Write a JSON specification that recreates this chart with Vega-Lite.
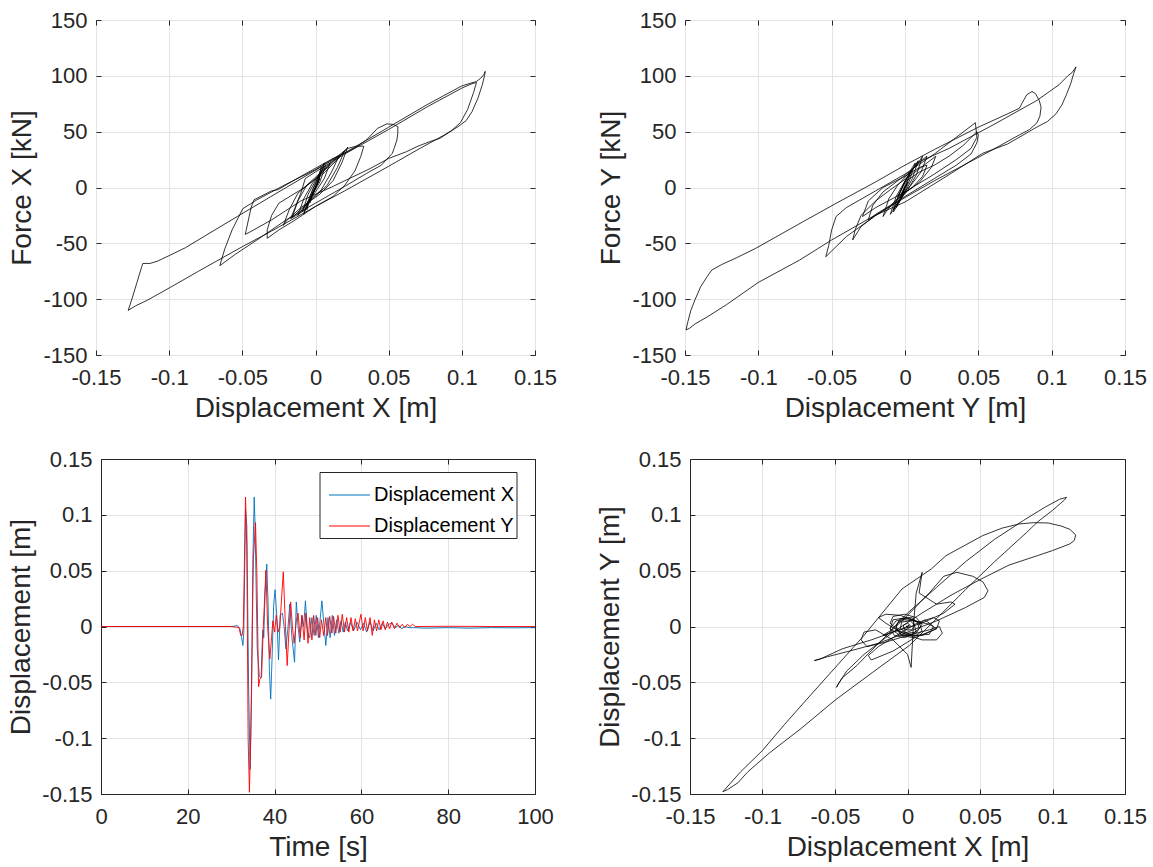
{
"$schema": "https://vega.github.io/schema/vega-lite/v6.json",
"background": "white",
"padding": {"left": 7, "top": 8, "right": 5, "bottom": 5},
"config": {
 "font": "Liberation Sans",
 "locale": {"number": {"decimal": ".", "thousands": ",", "grouping": [3], "currency": ["$", ""], "minus": "-"}},
 "view": {"stroke": "#262626", "strokeWidth": 1},
 "axis": {"labelFontSize": 22, "titleFontSize": 28, "labelColor": "#262626", "titleColor": "#262626", "titleFontWeight": "normal", "gridColor": "#E3E3E3", "gridWidth": 1, "tickColor": "#262626", "tickSize": -5, "domain": false, "domainColor": "#262626", "domainWidth": 1, "labelFlush": false, "labelOverlap": false, "labelFont": "Liberation Sans", "titleFont": "Liberation Sans"},
 "axisX": {"labelPadding": 17, "titlePadding": 6},
 "axisY": {"labelPadding": 14, "titlePadding": 6}
},
"datasets": {
 "fx": [
  {"x":0,"y":0},{"x":0.002,"y":5},{"x":-0.002,"y":-5},{"x":0.003,"y":8},{"x":-0.003,"y":-8},{"x":0,"y":0},
  {"x":-0.007,"y":-20},{"x":-0.012,"y":-24},{"x":-0.017,"y":-28},
  {"x":-0.014,"y":-18},{"x":-0.01,"y":-5},{"x":-0.007,"y":8},{"x":0,"y":14},{"x":0.02,"y":30},{"x":0.05,"y":52},{"x":0.076,"y":72},{"x":0.1,"y":89},{"x":0.107,"y":93},{"x":0.11,"y":94},
  {"x":0.108,"y":85},{"x":0.104,"y":70},{"x":0.099,"y":58},{"x":0.093,"y":51},{"x":0.088,"y":47},
  {"x":0.07,"y":34},{"x":0.05,"y":19},{"x":0.02,"y":-3},{"x":0,"y":-17},{"x":-0.03,"y":-39},{"x":-0.05,"y":-53},{"x":-0.08,"y":-75},{"x":-0.1,"y":-90},{"x":-0.115,"y":-101},{"x":-0.123,"y":-106},{"x":-0.128,"y":-110},
  {"x":-0.127,"y":-106},{"x":-0.125,"y":-98},{"x":-0.122,"y":-85},{"x":-0.119,"y":-72},{"x":-0.118,"y":-68},{"x":-0.113,"y":-68},{"x":-0.108,"y":-66},{"x":-0.1,"y":-61},{"x":-0.089,"y":-54},{"x":-0.07,"y":-39},{"x":-0.0535,"y":-26},{"x":-0.02,"y":0},{"x":0.02,"y":31},{"x":0.05,"y":54},{"x":0.076,"y":74},{"x":0.1,"y":91},{"x":0.11,"y":95},{"x":0.113,"y":98},{"x":0.115,"y":101},{"x":0.116,"y":104},
  {"x":0.1155,"y":100},{"x":0.114,"y":92},{"x":0.111,"y":80},{"x":0.107,"y":68},{"x":0.103,"y":60},{"x":0.098,"y":55},{"x":0.092,"y":50},{"x":0.085,"y":44},{"x":0.078,"y":41},{"x":0.07,"y":37},{"x":0.062,"y":32},{"x":0.05,"y":26},{"x":0.0374,"y":17},{"x":0.012,"y":1},{"x":-0.01,"y":-12},{"x":-0.03,"y":-29},{"x":-0.045,"y":-40},{"x":-0.048,"y":-42},
  {"x":-0.046,"y":-30},{"x":-0.044,"y":-18},{"x":-0.042,"y":-11},{"x":-0.03,"y":-3},{"x":-0.0257,"y":-2},{"x":-0.01,"y":10},{"x":0.012,"y":26},{"x":0.025,"y":34},{"x":0.0348,"y":42.5},{"x":0.0424,"y":53},{"x":0.0488,"y":57},{"x":0.053,"y":56.5},{"x":0.0563,"y":54.5},{"x":0.0562,"y":48},{"x":0.0556,"y":42.5},{"x":0.054,"y":36},{"x":0.0525,"y":30.6},{"x":0.045,"y":20},{"x":0.035,"y":12.7},{"x":0.02,"y":1},{"x":0,"y":-14},{"x":-0.02,"y":-29},{"x":-0.04,"y":-47},{"x":-0.055,"y":-60},{"x":-0.0654,"y":-70},
  {"x":-0.062,"y":-55},{"x":-0.057,"y":-38},{"x":-0.0497,"y":-19},{"x":-0.04,"y":-11},{"x":-0.02,"y":3},{"x":0,"y":16},{"x":0.015,"y":28},{"x":0.022,"y":35},{"x":0.028,"y":37},{"x":0.033,"y":37},
  {"x":0.031,"y":28},{"x":0.027,"y":15},{"x":0.02,"y":2},{"x":0.012,"y":-8},{"x":0,"y":-17},{"x":-0.015,"y":-30},{"x":-0.025,"y":-38},{"x":-0.033,"y":-45.5},
  {"x":-0.033,"y":-38},{"x":-0.03,"y":-25},{"x":-0.025,"y":-14},{"x":-0.01,"y":-2},{"x":0.005,"y":12},{"x":0.015,"y":25},{"x":0.022,"y":36},
  {"x":0.018,"y":22},{"x":0.012,"y":6},{"x":0.003,"y":-6},{"x":-0.01,"y":-18},{"x":-0.02,"y":-30},{"x":-0.022,"y":-34},
  {"x":-0.018,"y":-20},{"x":-0.012,"y":-5},{"x":0,"y":8},{"x":0.01,"y":20},{"x":0.018,"y":30},{"x":0.02,"y":33},
  {"x":0.015,"y":18},{"x":0.008,"y":2},{"x":-0.002,"y":-10},{"x":-0.012,"y":-22},{"x":-0.016,"y":-27},
  {"x":-0.012,"y":-12},{"x":-0.006,"y":2},{"x":0.004,"y":14},{"x":0.012,"y":24},{"x":0.016,"y":28},
  {"x":0.011,"y":14},{"x":0.004,"y":-2},{"x":-0.006,"y":-14},{"x":-0.012,"y":-25},
  {"x":-0.008,"y":-10},{"x":-0.002,"y":4},{"x":0.005,"y":14},{"x":0.01,"y":22},
  {"x":0.006,"y":8},{"x":0,"y":-4},{"x":-0.006,"y":-14},{"x":-0.009,"y":-22},
  {"x":-0.005,"y":-6},{"x":0,"y":6},{"x":0.004,"y":15},{"x":0.007,"y":20},
  {"x":0.003,"y":5},{"x":-0.002,"y":-6},{"x":-0.006,"y":-16},{"x":-0.008,"y":-24},
  {"x":-0.004,"y":-8},{"x":0.001,"y":6},{"x":0.005,"y":16},{"x":0.006,"y":22},
  {"x":0.002,"y":6},{"x":-0.003,"y":-8},{"x":-0.006,"y":-20},{"x":-0.005,"y":-14},
  {"x":-0.002,"y":-2},{"x":0.002,"y":10},{"x":0.004,"y":18},{"x":0.001,"y":4},{"x":-0.003,"y":-10},{"x":-0.004,"y":-14},{"x":0,"y":0},{"x":0.003,"y":10},{"x":0.002,"y":6},{"x":-0.002,"y":-6},{"x":0,"y":0}
 ],
 "fy": [
  {"x":0,"y":0},{"x":0.002,"y":5},{"x":-0.002,"y":-5},{"x":0.001,"y":2},{"x":0,"y":0},
  {"x":-0.004,"y":-12},{"x":-0.008,"y":-20},{"x":-0.006,"y":-12},{"x":0,"y":5},{"x":0.008,"y":22},{"x":0.03,"y":35},{"x":0.06,"y":56},{"x":0.09,"y":78},{"x":0.105,"y":92},{"x":0.111,"y":100},{"x":0.114,"y":103},{"x":0.1166,"y":108},
  {"x":0.115,"y":102},{"x":0.113,"y":93},{"x":0.11,"y":83},{"x":0.107,"y":74},{"x":0.103,"y":66},{"x":0.097,"y":59},{"x":0.0904,"y":54.5},{"x":0.07,"y":39},{"x":0.0529,"y":30.6},{"x":0.0279,"y":9.7},{"x":0,"y":-13},{"x":-0.022,"y":-26},{"x":-0.05,"y":-47},{"x":-0.0719,"y":-65},{"x":-0.1,"y":-85},{"x":-0.1218,"y":-105},{"x":-0.135,"y":-116},{"x":-0.143,"y":-122},{"x":-0.1468,"y":-126},{"x":-0.1493,"y":-127.6},
  {"x":-0.148,"y":-120},{"x":-0.146,"y":-110},{"x":-0.143,"y":-100},{"x":-0.1393,"y":-88.8},{"x":-0.135,"y":-80},{"x":-0.1318,"y":-74},{"x":-0.125,"y":-69},{"x":-0.115,"y":-63},{"x":-0.1018,"y":-54.5},{"x":-0.07,"y":-31},{"x":-0.047,"y":-14.2},{"x":-0.02,"y":5},{"x":0,"y":20},{"x":0.02,"y":34},{"x":0.05,"y":54},{"x":0.07,"y":66},{"x":0.078,"y":71},{"x":0.08,"y":76},{"x":0.083,"y":83},{"x":0.0866,"y":86},{"x":0.089,"y":84},{"x":0.0915,"y":78},{"x":0.0928,"y":72},{"x":0.092,"y":64},{"x":0.09,"y":58},{"x":0.085,"y":52},{"x":0.075,"y":45},{"x":0.06,"y":34},{"x":0.04,"y":20},{"x":0.02,"y":6},{"x":0,"y":-9},{"x":-0.02,"y":-25},{"x":-0.04,"y":-44},{"x":-0.054,"y":-62},
  {"x":-0.052,"y":-52},{"x":-0.05,"y":-38},{"x":-0.047,"y":-26},{"x":-0.04,"y":-18},{"x":-0.02,"y":-3},{"x":0,"y":12},{"x":0.02,"y":30},{"x":0.035,"y":45},{"x":0.048,"y":58},
  {"x":0.049,"y":45},{"x":0.045,"y":35},{"x":0.035,"y":25},{"x":0.02,"y":12},{"x":0,"y":-4},{"x":-0.02,"y":-18},{"x":-0.029,"y":-26},
  {"x":-0.025,"y":-12},{"x":-0.015,"y":0},{"x":0,"y":10},{"x":0.01,"y":18},{"x":0.015,"y":20},
  {"x":0.012,"y":10},{"x":0.005,"y":0},{"x":-0.005,"y":-8},
  {"x":0,"y":5},{"x":0.01,"y":14},{"x":0.02,"y":20},{"x":0.03,"y":28},{"x":0.04,"y":38},{"x":0.049,"y":50},{"x":0.05,"y":47},{"x":0.049,"y":40},{"x":0.045,"y":30},{"x":0.035,"y":20},{"x":0.02,"y":8},{"x":0,"y":-8},{"x":-0.02,"y":-25},{"x":-0.03,"y":-35},{"x":-0.0357,"y":-47},
  {"x":-0.034,"y":-38},{"x":-0.03,"y":-25},{"x":-0.02,"y":-12},{"x":-0.01,"y":-2},{"x":0.005,"y":12},{"x":0.015,"y":22},{"x":0.021,"y":28},
  {"x":0.018,"y":18},{"x":0.01,"y":5},{"x":0,"y":-5},{"x":-0.01,"y":-16},{"x":-0.02,"y":-24},{"x":-0.025,"y":-29},
  {"x":-0.022,"y":-16},{"x":-0.015,"y":-4},{"x":-0.005,"y":6},{"x":0.005,"y":16},{"x":0.012,"y":25},{"x":0.015,"y":28},
  {"x":0.011,"y":14},{"x":0.004,"y":2},{"x":-0.005,"y":-10},{"x":-0.012,"y":-20},{"x":-0.015,"y":-26},
  {"x":-0.011,"y":-10},{"x":-0.005,"y":2},{"x":0.002,"y":12},{"x":0.009,"y":22},{"x":0.012,"y":28},
  {"x":0.008,"y":12},{"x":0.002,"y":-2},{"x":-0.005,"y":-14},{"x":-0.01,"y":-24},
  {"x":-0.006,"y":-8},{"x":0,"y":6},{"x":0.005,"y":16},{"x":0.009,"y":24},
  {"x":0.005,"y":8},{"x":0,"y":-4},{"x":-0.005,"y":-16},{"x":-0.008,"y":-22},
  {"x":-0.004,"y":-6},{"x":0.001,"y":8},{"x":0.005,"y":18},{"x":0.007,"y":22},
  {"x":0.003,"y":6},{"x":-0.002,"y":-8},{"x":-0.006,"y":-18},{"x":-0.004,"y":-10},
  {"x":0,"y":2},{"x":0.004,"y":14},{"x":0.002,"y":6},{"x":-0.002,"y":-6},{"x":-0.003,"y":-10},{"x":0,"y":0}
 ],
 "xy": [
  {"x":0,"y":0},{"x":0.001,"y":0.001},{"x":-0.001,"y":0},{"x":0,"y":0},
  {"x":-0.008,"y":-0.004},{"x":-0.017,"y":-0.008},{"x":-0.012,"y":-0.004},{"x":0,"y":0.012},{"x":0.02,"y":0.035},{"x":0.04,"y":0.058},{"x":0.06,"y":0.078},{"x":0.08,"y":0.095},{"x":0.095,"y":0.107},{"x":0.105,"y":0.114},{"x":0.1097,"y":0.1157},{"x":0.108,"y":0.113},
  {"x":0.1,"y":0.104},{"x":0.09,"y":0.094},{"x":0.082,"y":0.084},{"x":0.06,"y":0.058},{"x":0.04,"y":0.033},{"x":0.02,"y":0.007},{"x":0.0013,"y":-0.017},{"x":-0.024,"y":-0.041},{"x":-0.05,"y":-0.066},{"x":-0.074,"y":-0.092},{"x":-0.095,"y":-0.113},{"x":-0.11,"y":-0.13},{"x":-0.117,"y":-0.14},{"x":-0.124,"y":-0.146},{"x":-0.1273,"y":-0.1479},{"x":-0.126,"y":-0.146},
  {"x":-0.115,"y":-0.13},{"x":-0.1,"y":-0.111},{"x":-0.085,"y":-0.088},{"x":-0.0693,"y":-0.065},{"x":-0.05,"y":-0.037},{"x":-0.03,"y":-0.008},{"x":-0.0038,"y":0.0336},{"x":0.0164,"y":0.0515},{"x":0.0265,"y":0.0634},{"x":0.04,"y":0.073},{"x":0.0517,"y":0.0813},{"x":0.065,"y":0.088},{"x":0.0769,"y":0.0918},{"x":0.087,"y":0.093},{"x":0.097,"y":0.0927},{"x":0.106,"y":0.09},{"x":0.112,"y":0.087},{"x":0.116,"y":0.082},{"x":0.115,"y":0.077},{"x":0.112,"y":0.074},{"x":0.1,"y":0.068},{"x":0.0895,"y":0.0634},
  {"x":0.07,"y":0.055},{"x":0.05,"y":0.042},{"x":0.03,"y":0.028},{"x":0.01,"y":0.012},{"x":-0.01,"y":-0.005},{"x":-0.03,"y":-0.025},{"x":-0.042,"y":-0.04},{"x":-0.047,"y":-0.05},{"x":-0.049,"y":-0.0545},{"x":-0.048,"y":-0.052},
  {"x":-0.045,"y":-0.046},{"x":-0.035,"y":-0.035},{"x":-0.02,"y":-0.015},{"x":0,"y":0.01},{"x":0.015,"y":0.03},{"x":0.025,"y":0.045},{"x":0.034,"y":0.0485},{"x":0.045,"y":0.045},{"x":0.052,"y":0.04},{"x":0.0555,"y":0.032},{"x":0.053,"y":0.026},{"x":0.04,"y":0.017},{"x":0.02,"y":0.005},{"x":0,"y":-0.005},{"x":-0.02,"y":-0.015},{"x":-0.04,"y":-0.022},{"x":-0.055,"y":-0.027},{"x":-0.0643,"y":-0.0306},{"x":-0.06,"y":-0.029},
  {"x":-0.045,"y":-0.02},{"x":-0.025,"y":-0.012},{"x":-0.01,"y":-0.005},{"x":0.01,"y":0.003},{"x":0.025,"y":0.012},{"x":0.0328,"y":0.02},{"x":0.03,"y":0.022},
  {"x":0.02,"y":0.02},{"x":0.008,"y":0.03},{"x":0.0101,"y":0.0485},{"x":0.006,"y":0.03},{"x":0.004,"y":0},{"x":0.0025,"y":-0.0366},
  {"x":0,"y":-0.025},{"x":-0.01,"y":-0.012},{"x":-0.022,"y":-0.003},{"x":-0.03,"y":-0.005},{"x":-0.032,"y":-0.012},{"x":-0.028,"y":-0.018},{"x":-0.015,"y":-0.014},{"x":0,"y":-0.008},{"x":0.015,"y":-0.003},{"x":0.022,"y":0},{"x":0.024,"y":-0.006},{"x":0.02,"y":-0.012},{"x":0.01,"y":-0.012},{"x":-0.005,"y":-0.005},{"x":-0.015,"y":0.003},{"x":-0.02,"y":0.008},{"x":-0.015,"y":0.011},{"x":-0.005,"y":0.01},{"x":0.005,"y":0.005},{"x":0.015,"y":0.002},{"x":0.02,"y":-0.002},
  {"x":0.005,"y":-0.01},{"x":-0.01,"y":-0.022},{"x":-0.025,"y":-0.03},{"x":-0.027,"y":-0.026},{"x":-0.02,"y":-0.018},{"x":-0.005,"y":-0.006},{"x":0.008,"y":0.004},{"x":0.018,"y":0.008},{"x":0.022,"y":0.005},{"x":0.02,"y":-0.002},{"x":0.01,"y":-0.008},{"x":-0.005,"y":-0.008},{"x":-0.012,"y":-0.002},{"x":-0.01,"y":0.006},{"x":0,"y":0.008},{"x":0.008,"y":0.004},{"x":0.01,"y":-0.004},{"x":0.004,"y":-0.01},{"x":-0.004,"y":-0.008},{"x":-0.008,"y":0},{"x":-0.005,"y":0.007},{"x":0.003,"y":0.008},{"x":0.008,"y":0.002},
  {"x":0.012,"y":0.006},{"x":0.018,"y":0},{"x":0.015,"y":-0.007},{"x":0.005,"y":-0.008},{"x":-0.006,"y":-0.004},{"x":-0.012,"y":0.003},{"x":-0.01,"y":0.009},{"x":-0.002,"y":0.011},{"x":0.006,"y":0.008},{"x":0.01,"y":0.002},{"x":0.006,"y":-0.006},{"x":-0.002,"y":-0.01},{"x":-0.009,"y":-0.008},{"x":-0.012,"y":-0.002},{"x":-0.008,"y":0.005},{"x":0,"y":0.007},{"x":0.007,"y":0.004},{"x":0.008,"y":-0.002},{"x":0.003,"y":-0.007},{"x":-0.004,"y":-0.007},{"x":-0.008,"y":-0.003},{"x":-0.007,"y":0.003},{"x":-0.002,"y":0.006},{"x":0.004,"y":0.005},
  {"x":0.006,"y":-0.005},{"x":0,"y":-0.006},{"x":-0.005,"y":-0.002},{"x":-0.004,"y":0.004},{"x":0.002,"y":0.005},{"x":0.005,"y":0.001},{"x":0.003,"y":-0.003},{"x":-0.002,"y":-0.003},{"x":-0.003,"y":0.001},{"x":0,"y":0.003},{"x":0.002,"y":0.001},{"x":0,"y":-0.001},{"x":-0.001,"y":0}
 ],
 "ts": [
  {"s":"Displacement X","t":0,"v":0},{"s":"Displacement X","t":30,"v":0},{"s":"Displacement X","t":31,"v":0.0005},{"s":"Displacement X","t":31.4,"v":0.001},{"s":"Displacement X","t":32,"v":-0.002},{"s":"Displacement X","t":32.4,"v":-0.01},{"s":"Displacement X","t":32.7,"v":-0.017},{"s":"Displacement X","t":32.9,"v":-0.005},{"s":"Displacement X","t":33.3,"v":0.105},{"s":"Displacement X","t":33.6,"v":0.09},{"s":"Displacement X","t":34.0,"v":-0.05},{"s":"Displacement X","t":34.35,"v":-0.128},{"s":"Displacement X","t":34.7,"v":-0.06},{"s":"Displacement X","t":35.0,"v":0.06},{"s":"Displacement X","t":35.3,"v":0.116},{"s":"Displacement X","t":35.5,"v":0.09},{"s":"Displacement X","t":36.0,"v":-0.02},{"s":"Displacement X","t":36.5,"v":-0.045},{"s":"Displacement X","t":36.9,"v":-0.046},{"s":"Displacement X","t":37.1,"v":-0.02},{"s":"Displacement X","t":37.3,"v":-0.003},{"s":"Displacement X","t":37.5,"v":-0.01},{"s":"Displacement X","t":37.8,"v":0.03},{"s":"Displacement X","t":38.2,"v":0.056},{"s":"Displacement X","t":38.5,"v":0.02},{"s":"Displacement X","t":38.8,"v":-0.04},{"s":"Displacement X","t":39.1,"v":-0.065},{"s":"Displacement X","t":39.4,"v":-0.03},{"s":"Displacement X","t":39.8,"v":0.02},{"s":"Displacement X","t":40.1,"v":0.033},
  {"s":"Displacement X","t":40.5,"v":0.01},{"s":"Displacement X","t":40.9,"v":-0.03},{"s":"Displacement X","t":41.3,"v":0.01},{"s":"Displacement X","t":41.8,"v":0.012},{"s":"Displacement X","t":42.2,"v":0},{"s":"Displacement X","t":42.6,"v":-0.02},{"s":"Displacement X","t":43.1,"v":0},{"s":"Displacement X","t":43.5,"v":0.02},{"s":"Displacement X","t":44.0,"v":-0.01},{"s":"Displacement X","t":44.6,"v":-0.032},{"s":"Displacement X","t":45.0,"v":0.022},{"s":"Displacement X","t":45.4,"v":0},{"s":"Displacement X","t":45.8,"v":-0.014},{"s":"Displacement X","t":46.3,"v":0.01},{"s":"Displacement X","t":46.7,"v":0},{"s":"Displacement X","t":47.1,"v":0.023},{"s":"Displacement X","t":47.6,"v":-0.005},{"s":"Displacement X","t":48.1,"v":-0.01},{"s":"Displacement X","t":48.6,"v":0.008},{"s":"Displacement X","t":49.1,"v":-0.008},{"s":"Displacement X","t":49.6,"v":0.01},{"s":"Displacement X","t":50.1,"v":-0.01},{"s":"Displacement X","t":50.9,"v":0.023},{"s":"Displacement X","t":51.4,"v":0},{"s":"Displacement X","t":51.8,"v":-0.017},{"s":"Displacement X","t":52.3,"v":0.008},{"s":"Displacement X","t":52.8,"v":-0.01},{"s":"Displacement X","t":53.3,"v":0.01},{"s":"Displacement X","t":53.8,"v":-0.008},{"s":"Displacement X","t":54.3,"v":0.006},{"s":"Displacement X","t":54.8,"v":-0.006},{"s":"Displacement X","t":55.3,"v":0.005},{"s":"Displacement X","t":55.8,"v":-0.005},{"s":"Displacement X","t":56.3,"v":0.004},{"s":"Displacement X","t":56.8,"v":-0.004},{"s":"Displacement X","t":57.5,"v":0.004},{"s":"Displacement X","t":58.2,"v":-0.004},{"s":"Displacement X","t":59,"v":0.004},{"s":"Displacement X","t":59.8,"v":-0.003},{"s":"Displacement X","t":60.5,"v":0.003},{"s":"Displacement X","t":61.2,"v":-0.005},{"s":"Displacement X","t":62,"v":0.004},{"s":"Displacement X","t":62.7,"v":-0.004},{"s":"Displacement X","t":63.4,"v":0.003},{"s":"Displacement X","t":64.1,"v":-0.003},{"s":"Displacement X","t":64.8,"v":0.003},{"s":"Displacement X","t":65.5,"v":-0.002},{"s":"Displacement X","t":66.3,"v":0.002},{"s":"Displacement X","t":67,"v":0.003},{"s":"Displacement X","t":67.8,"v":-0.001},{"s":"Displacement X","t":68.5,"v":0.001},{"s":"Displacement X","t":69.3,"v":-0.002},{"s":"Displacement X","t":70,"v":0},{"s":"Displacement X","t":71,"v":-0.001},{"s":"Displacement X","t":72,"v":-0.001},{"s":"Displacement X","t":75,"v":-0.0015},{"s":"Displacement X","t":80,"v":-0.001},{"s":"Displacement X","t":85,"v":-0.0015},{"s":"Displacement X","t":90,"v":-0.001},{"s":"Displacement X","t":95,"v":-0.0012},{"s":"Displacement X","t":100,"v":-0.001},
  {"s":"Displacement Y","t":0,"v":0},{"s":"Displacement Y","t":30,"v":0},{"s":"Displacement Y","t":31,"v":-0.0005},{"s":"Displacement Y","t":31.8,"v":-0.001},{"s":"Displacement Y","t":32.2,"v":-0.008},{"s":"Displacement Y","t":32.5,"v":-0.008},{"s":"Displacement Y","t":32.8,"v":0},{"s":"Displacement Y","t":33.3,"v":0.116},{"s":"Displacement Y","t":33.6,"v":0.07},{"s":"Displacement Y","t":33.9,"v":-0.1},{"s":"Displacement Y","t":34.2,"v":-0.1485},{"s":"Displacement Y","t":34.5,"v":-0.1},{"s":"Displacement Y","t":35.1,"v":0.06},{"s":"Displacement Y","t":35.6,"v":0.093},{"s":"Displacement Y","t":35.9,"v":0.05},{"s":"Displacement Y","t":36.3,"v":-0.054},{"s":"Displacement Y","t":36.6,"v":-0.047},{"s":"Displacement Y","t":37.0,"v":-0.045},{"s":"Displacement Y","t":37.4,"v":0},{"s":"Displacement Y","t":38.0,"v":0.0504},{"s":"Displacement Y","t":38.4,"v":0},{"s":"Displacement Y","t":38.9,"v":-0.029},
  {"s":"Displacement Y","t":39.3,"v":-0.01},{"s":"Displacement Y","t":39.6,"v":0.005},{"s":"Displacement Y","t":40.0,"v":-0.005},{"s":"Displacement Y","t":40.4,"v":0.01},{"s":"Displacement Y","t":40.8,"v":-0.005},{"s":"Displacement Y","t":41.2,"v":0},{"s":"Displacement Y","t":42.0,"v":0.049},{"s":"Displacement Y","t":42.5,"v":0},{"s":"Displacement Y","t":42.9,"v":-0.035},{"s":"Displacement Y","t":43.3,"v":-0.005},{"s":"Displacement Y","t":43.7,"v":0.022},{"s":"Displacement Y","t":44.1,"v":0},{"s":"Displacement Y","t":44.5,"v":-0.015},{"s":"Displacement Y","t":45.0,"v":0.005},{"s":"Displacement Y","t":45.4,"v":0.012},{"s":"Displacement Y","t":45.9,"v":-0.01},{"s":"Displacement Y","t":46.3,"v":0.01},{"s":"Displacement Y","t":46.8,"v":-0.012},{"s":"Displacement Y","t":47.2,"v":0.012},{"s":"Displacement Y","t":47.7,"v":-0.015},{"s":"Displacement Y","t":48.1,"v":0.008},{"s":"Displacement Y","t":48.6,"v":-0.012},{"s":"Displacement Y","t":49.0,"v":0.01},{"s":"Displacement Y","t":49.5,"v":-0.008},{"s":"Displacement Y","t":49.9,"v":0.008},{"s":"Displacement Y","t":50.4,"v":-0.01},{"s":"Displacement Y","t":50.8,"v":0.006},{"s":"Displacement Y","t":51.3,"v":-0.008},{"s":"Displacement Y","t":51.8,"v":0.008},{"s":"Displacement Y","t":52.2,"v":-0.008},{"s":"Displacement Y","t":52.7,"v":0.009},{"s":"Displacement Y","t":53.2,"v":-0.006},{"s":"Displacement Y","t":53.6,"v":0.009},{"s":"Displacement Y","t":54.1,"v":-0.006},{"s":"Displacement Y","t":54.6,"v":0.01},{"s":"Displacement Y","t":55.1,"v":-0.005},{"s":"Displacement Y","t":55.6,"v":0.011},{"s":"Displacement Y","t":56.1,"v":-0.005},{"s":"Displacement Y","t":56.6,"v":0.008},{"s":"Displacement Y","t":57.1,"v":-0.005},{"s":"Displacement Y","t":57.6,"v":0.008},{"s":"Displacement Y","t":58.1,"v":-0.004},{"s":"Displacement Y","t":58.6,"v":0.007},{"s":"Displacement Y","t":59.1,"v":-0.004},{"s":"Displacement Y","t":59.9,"v":0.011},{"s":"Displacement Y","t":60.4,"v":-0.004},{"s":"Displacement Y","t":60.9,"v":0.008},{"s":"Displacement Y","t":61.4,"v":-0.004},{"s":"Displacement Y","t":62.0,"v":0.008},{"s":"Displacement Y","t":62.5,"v":-0.008},{"s":"Displacement Y","t":63.0,"v":0.006},{"s":"Displacement Y","t":63.5,"v":-0.004},{"s":"Displacement Y","t":64.0,"v":0.006},{"s":"Displacement Y","t":64.5,"v":-0.003},{"s":"Displacement Y","t":65.0,"v":0.005},{"s":"Displacement Y","t":65.5,"v":-0.003},{"s":"Displacement Y","t":66.0,"v":0.004},{"s":"Displacement Y","t":66.5,"v":-0.002},{"s":"Displacement Y","t":67.0,"v":0.004},{"s":"Displacement Y","t":67.6,"v":-0.002},{"s":"Displacement Y","t":68.2,"v":0.003},{"s":"Displacement Y","t":68.8,"v":-0.001},{"s":"Displacement Y","t":69.4,"v":0.002},{"s":"Displacement Y","t":70.0,"v":-0.001},{"s":"Displacement Y","t":70.6,"v":0.002},{"s":"Displacement Y","t":71.2,"v":0},{"s":"Displacement Y","t":71.8,"v":0.002},{"s":"Displacement Y","t":72.4,"v":0},{"s":"Displacement Y","t":74,"v":0},{"s":"Displacement Y","t":80,"v":0.0002},{"s":"Displacement Y","t":90,"v":0},{"s":"Displacement Y","t":100,"v":0}
 ]
},
"columns": 2,
"spacing": {"row": 25, "column": 39},
"concat": [
  {"width": 439, "height": 335, "data": {"name": "fx"},
   "transform": [{"window": [{"op": "row_number", "as": "i"}]}],
   "layer": [
    {"mark": {"type": "line", "color": "#000000", "strokeWidth": 0.8},
     "encoding": {
      "x": {"field": "x", "type": "quantitative", "scale": {"domain": [-0.15, 0.15], "nice": false, "zero": false}, "axis": {"orient": "bottom", "title": "Displacement X [m]", "values": [-0.15, -0.1, -0.05, 0, 0.05, 0.1, 0.15], "format": ".2~f"}},
      "y": {"field": "y", "type": "quantitative", "scale": {"domain": [-150, 150], "nice": false, "zero": false}, "axis": {"orient": "left", "title": "Force X [kN]", "values": [-150, -100, -50, 0, 50, 100, 150], "format": ".0f"}},
      "order": {"field": "i"}}},
    {"mark": {"type": "point", "opacity": 0},
     "encoding": {
      "x": {"field": "x", "type": "quantitative", "axis": {"orient": "top", "labels": false, "title": null, "grid": false, "values": [-0.15, -0.1, -0.05, 0, 0.05, 0.1, 0.15]}},
      "y": {"field": "y", "type": "quantitative", "axis": {"orient": "right", "labels": false, "title": null, "grid": false, "values": [-150, -100, -50, 0, 50, 100, 150]}}}}
   ]},
  {"width": 440, "height": 335, "data": {"name": "fy"},
   "transform": [{"window": [{"op": "row_number", "as": "i"}]}],
   "layer": [
    {"mark": {"type": "line", "color": "#000000", "strokeWidth": 0.8},
     "encoding": {
      "x": {"field": "x", "type": "quantitative", "scale": {"domain": [-0.15, 0.15], "nice": false, "zero": false}, "axis": {"orient": "bottom", "title": "Displacement Y [m]", "values": [-0.15, -0.1, -0.05, 0, 0.05, 0.1, 0.15], "format": ".2~f"}},
      "y": {"field": "y", "type": "quantitative", "scale": {"domain": [-150, 150], "nice": false, "zero": false}, "axis": {"orient": "left", "title": "Force Y [kN]", "values": [-150, -100, -50, 0, 50, 100, 150], "format": ".0f"}},
      "order": {"field": "i"}}},
    {"mark": {"type": "point", "opacity": 0},
     "encoding": {
      "x": {"field": "x", "type": "quantitative", "axis": {"orient": "top", "labels": false, "title": null, "grid": false, "values": [-0.15, -0.1, -0.05, 0, 0.05, 0.1, 0.15]}},
      "y": {"field": "y", "type": "quantitative", "axis": {"orient": "right", "labels": false, "title": null, "grid": false, "values": [-150, -100, -50, 0, 50, 100, 150]}}}}
   ]},
  {"width": 439, "height": 335, "data": {"name": "ts"},
   "view": {"stroke": null},
   "transform": [{"window": [{"op": "row_number", "as": "i"}]}],
   "layer": [
    {"mark": {"type": "line", "strokeWidth": 0.9},
     "encoding": {
      "x": {"field": "t", "type": "quantitative", "scale": {"domain": [0, 100], "nice": false, "zero": false, "range": [5, 439]}, "axis": {"orient": "bottom", "domain": true, "title": "Time [s]", "values": [0, 20, 40, 60, 80, 100], "format": ".0f"}},
      "y": {"field": "v", "type": "quantitative", "scale": {"domain": [-0.15, 0.15], "nice": false, "zero": false}, "axis": {"orient": "left", "domain": true, "offset": -5, "title": "Displacement [m]", "values": [-0.15, -0.1, -0.05, 0, 0.05, 0.1, 0.15], "format": ".2~f"}},
      "color": {"field": "s", "type": "nominal", "scale": {"domain": ["Displacement X", "Displacement Y"], "range": ["#0072BD", "#FF0000"]},
       "legend": {"orient": "none", "legendX": 223.5, "legendY": 452, "title": null, "symbolType": "stroke", "symbolSize": 1681, "symbolStrokeWidth": 1, "symbolOffset": 7, "labelFontSize": 20, "labelColor": "#000000", "labelOffset": 3.5, "padding": 2, "rowPadding": -2, "strokeColor": "#262626", "fillColor": "#ffffff", "labelLimit": 400}},
      "order": {"field": "i"}}},
    {"mark": {"type": "point", "opacity": 0},
     "encoding": {
      "x": {"field": "t", "type": "quantitative", "axis": {"orient": "top", "domain": true, "labels": false, "title": null, "grid": false, "values": [0, 20, 40, 60, 80, 100]}},
      "y": {"field": "v", "type": "quantitative", "axis": {"orient": "right", "domain": true, "labels": false, "title": null, "grid": false, "values": [-0.15, -0.1, -0.05, 0, 0.05, 0.1, 0.15]}}}}
   ]},
  {"width": 440, "height": 335, "data": {"name": "xy"},
   "view": {"stroke": null},
   "transform": [{"window": [{"op": "row_number", "as": "i"}]}],
   "layer": [
    {"mark": {"type": "line", "color": "#000000", "strokeWidth": 0.8},
     "encoding": {
      "x": {"field": "x", "type": "quantitative", "scale": {"domain": [-0.15, 0.15], "nice": false, "zero": false, "range": [5, 440]}, "axis": {"orient": "bottom", "domain": true, "title": "Displacement X [m]", "values": [-0.15, -0.1, -0.05, 0, 0.05, 0.1, 0.15], "format": ".2~f"}},
      "y": {"field": "y", "type": "quantitative", "scale": {"domain": [-0.15, 0.15], "nice": false, "zero": false}, "axis": {"orient": "left", "domain": true, "offset": -5, "title": "Displacement Y [m]", "values": [-0.15, -0.1, -0.05, 0, 0.05, 0.1, 0.15], "format": ".2~f"}},
      "order": {"field": "i"}}},
    {"mark": {"type": "point", "opacity": 0},
     "encoding": {
      "x": {"field": "x", "type": "quantitative", "axis": {"orient": "top", "domain": true, "labels": false, "title": null, "grid": false, "values": [-0.15, -0.1, -0.05, 0, 0.05, 0.1, 0.15]}},
      "y": {"field": "y", "type": "quantitative", "axis": {"orient": "right", "domain": true, "labels": false, "title": null, "grid": false, "values": [-0.15, -0.1, -0.05, 0, 0.05, 0.1, 0.15]}}}}
   ]}
]
}
